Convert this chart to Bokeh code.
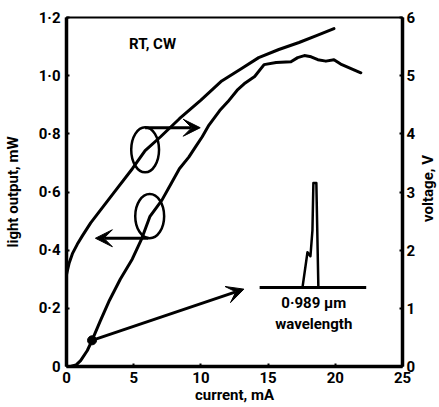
import math
from bokeh.plotting import figure
from bokeh.models import (Range1d, LinearAxis, FixedTicker, CustomJSTickFormatter,
                          Arrow, VeeHead, Label)
from bokeh.embed import file_html
from bokeh.resources import INLINE

# ---- data ----
current_light = [0.3, 0.7, 1.05, 1.55, 1.9, 2.5, 3.2, 4.0, 4.9, 5.6, 6.2, 7.1, 7.8, 8.4,
                 9.1, 9.6, 10.1, 10.6, 11.4, 12.0, 12.7, 13.3, 14.0, 14.7, 15.6, 16.7,
                 17.2, 17.7, 18.2, 18.7, 19.3, 19.9, 20.4, 21.0, 21.9]
light_output = [0.0, 0.005, 0.02, 0.055, 0.09, 0.155, 0.228, 0.30, 0.37, 0.44, 0.515,
                0.572, 0.63, 0.68, 0.72, 0.755, 0.79, 0.83, 0.88, 0.91, 0.95, 0.975,
                0.997, 1.038, 1.045, 1.048, 1.062, 1.069, 1.065, 1.055, 1.05, 1.055,
                1.04, 1.028, 1.01]

current_volt = [0.0, 0.07, 0.2, 0.44, 0.8, 1.19, 1.8, 2.67, 3.5, 4.9, 5.85, 7.0, 8.4,
                10.0, 11.55, 13.0, 14.3, 15.8, 17.3, 18.6, 19.9]
voltage = [1.58, 1.65, 1.78, 1.94, 2.1, 2.25, 2.47, 2.73, 2.98, 3.40, 3.71, 3.95, 4.26,
           4.58, 4.91, 5.12, 5.31, 5.45, 5.57, 5.69, 5.81]

# wavelength spectrum inset (drawn in light-output axis units)
spectrum_base_x = [14.37, 22.3]
spectrum_base_y = [0.272, 0.272]
spectrum_x = [17.56, 17.93, 18.15, 18.30, 18.37, 18.59, 18.74]
spectrum_y = [0.272, 0.393, 0.379, 0.469, 0.631, 0.631, 0.272]

# operating point marker and annotation shapes
marker_current = [1.9]
marker_light = [0.09]
ellipse_x = [5.85, 6.19]
ellipse_y = [0.745, 0.517]
ellipse_w = [2.07, 2.15]
ellipse_h = [0.155, 0.152]

x_ticks = [0, 5, 10, 15, 20, 25]
light_ticks = [0, 0.2, 0.4, 0.6, 0.8, 1.0, 1.2]
volt_ticks = [0, 1, 2, 3, 4, 5, 6]

FONT = "Roboto"

p = figure(width=439, height=407, output_backend="svg", toolbar_location=None,
           x_range=Range1d(0, 25), y_range=Range1d(0, 1.2),
           min_border_left=64, min_border_right=37, min_border_top=17,
           min_border_bottom=41)
p.extra_y_ranges = {"volt": Range1d(0, 6)}
p.grid.visible = False
p.outline_line_color = "black"
p.outline_line_width = 2
p.background_fill_color = "white"
p.border_fill_color = "white"

fmt = CustomJSTickFormatter(code="return tick === 0 ? '0' : tick.toFixed(1).replace('.', '\u00b7');")


def style_axis(ax, label_standoff, tick_standoff):
    ax.axis_line_width = 3.5
    ax.axis_line_color = "black"
    ax.major_tick_in = 3
    ax.major_tick_out = 0
    ax.major_tick_line_width = 2
    ax.minor_tick_line_color = None
    ax.major_label_text_font = FONT
    ax.major_label_text_font_style = "bold"
    ax.major_label_text_font_size = "15px"
    ax.major_label_text_color = "black"
    ax.axis_label_text_font = FONT
    ax.axis_label_text_font_style = "bold"
    ax.axis_label_text_font_size = "15px"
    ax.axis_label_text_color = "black"
    ax.axis_label_standoff = label_standoff
    ax.major_label_standoff = tick_standoff


xax = p.xaxis[0]
xax.ticker = FixedTicker(ticks=x_ticks)
xax.axis_label = "current, mA"
style_axis(xax, 0, 5)

yax = p.yaxis[0]
yax.ticker = FixedTicker(ticks=light_ticks)
yax.formatter = fmt
yax.axis_label = "light output, mW"
style_axis(yax, 14, 6)

rax = LinearAxis(y_range_name="volt", ticker=FixedTicker(ticks=volt_ticks))
style_axis(rax, 0, 4)
p.add_layout(rax, "right")

# right-hand axis title, reading bottom-to-top as in the original
p.add_layout(Label(x=9, y=178, x_units="screen", y_units="screen", angle=math.pi / 2,
                   text="voltage, V", text_font=FONT, text_font_style="bold",
                   text_font_size="15px", text_color="black",
                   text_align="center", text_baseline="middle"), "right")

# curves
p.line(current_volt, voltage, y_range_name="volt", line_color="black",
       line_width=3, line_cap="round", line_join="round")
p.line(current_light, light_output, line_color="black", line_width=3,
       line_cap="round", line_join="round")

# operating point
p.scatter(marker_current, marker_light, size=9, color="black")

# ellipses marking which curve belongs to which axis
p.ellipse(ellipse_x, ellipse_y, width=ellipse_w, height=ellipse_h,
          fill_color=None, line_color="black", line_width=2.5)

# arrows
p.add_layout(Arrow(x_start=ellipse_x[0], y_start=0.821, x_end=9.95, y_end=0.821,
                   line_width=3, line_color="black",
                   end=VeeHead(size=17, fill_color="black", line_color="black")))
p.add_layout(Arrow(x_start=ellipse_x[1] - 0.1, y_start=0.441, x_end=2.15, y_end=0.441,
                   line_width=3, line_color="black",
                   end=VeeHead(size=17, fill_color="black", line_color="black")))
p.add_layout(Arrow(x_start=marker_current[0], y_start=marker_light[0], x_end=13.2,
                   y_end=0.266, line_width=3, line_color="black",
                   end=VeeHead(size=17, fill_color="black", line_color="black")))

# spectrum inset
p.line(spectrum_base_x, spectrum_base_y, line_color="black", line_width=3)
p.line(spectrum_x, spectrum_y, line_color="black", line_width=2.5, line_join="round")

# texts
p.add_layout(Label(x=6.4, y=1.11, text="RT, CW", text_font=FONT, text_font_style="bold",
                   text_font_size="15px", text_color="black",
                   text_align="center", text_baseline="middle"))
p.add_layout(Label(x=18.4, y=0.217, text="0\u00b7989\u00a0\u03bcm", text_font=FONT,
                   text_font_style="bold", text_font_size="15px", text_color="black",
                   text_align="center", text_baseline="middle"))
p.add_layout(Label(x=18.4, y=0.145, text="wavelength", text_font=FONT,
                   text_font_style="bold", text_font_size="15px", text_color="black",
                   text_align="center", text_baseline="middle"))

open("out.html", "w").write(file_html(p, INLINE))
